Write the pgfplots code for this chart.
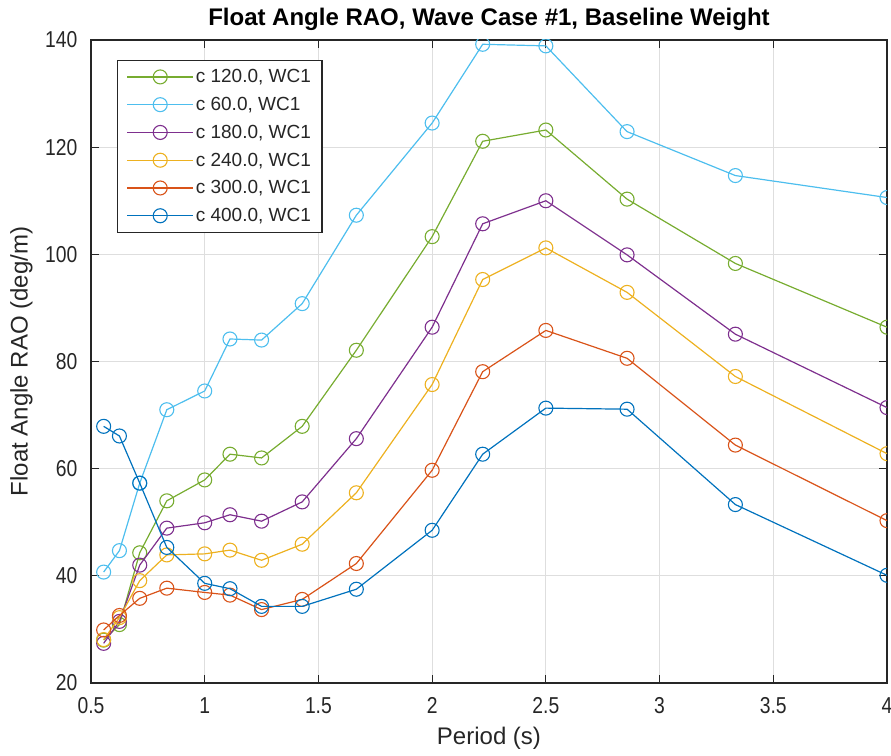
\documentclass[border=0pt]{standalone}
\usepackage{graphicx}
\usepackage{pgfplots}
\pgfplotsset{compat=1.18}
\usepackage{fontspec}
\setmainfont{Liberation Sans}
\definecolor{mgreen}{RGB}{119,172,48}
\definecolor{mlblue}{RGB}{77,190,238}
\definecolor{mpurple}{RGB}{126,47,142}
\definecolor{myellow}{RGB}{237,177,32}
\definecolor{morange}{RGB}{217,83,25}
\definecolor{mblue}{RGB}{0,114,189}
\definecolor{axgray}{RGB}{38,38,38}
\definecolor{gridgray}{RGB}{222,222,222}
\newcommand\sq[1]{\scalebox{0.84}[1]{#1}}
\begin{document}
\begin{tikzpicture}
\begin{axis}[
  scale only axis,
  width=796pt, height=643pt,
  xmin=0.5, xmax=4, ymin=20, ymax=140,
  xtick={0.5,1,...,4}, ytick={20,40,...,140},
  xticklabels={\sq{0.5},\sq{1},\sq{1.5},\sq{2},\sq{2.5},\sq{3},\sq{3.5},\sq{4}},
  yticklabels={\sq{20},\sq{40},\sq{60},\sq{80},\sq{100},\sq{120},\sq{140}},
  tick align=inside, major tick length=8pt,
  tick style={axgray, line width=1.2pt},
  axis line style={axgray, line width=1.4pt},
  grid=major,
  major grid style={gridgray, line width=1pt},
  ticklabel style={font=\fontsize{23}{26}\selectfont, text=axgray},
  yticklabel style={xshift=-10pt},
  xticklabel style={yshift=-11pt},
  title={\textbf{Float Angle RAO, Wave Case \#1, Baseline Weight}},
  title style={font=\fontsize{24}{28}\selectfont, yshift=0pt},
  xlabel={Period (s)},
  ylabel={Float Angle RAO (deg/m)},
  label style={font=\fontsize{24}{28}\selectfont, text=axgray},
  xlabel style={at={(rel axis cs:0.5,-0.0638)}, anchor=north},
  ylabel style={at={(rel axis cs:-0.069,0.5)}, anchor=south},
  clip marker paths=true,
  every axis plot/.append style={line width=1.2pt, mark=o, mark size=7pt, mark options={solid, line width=1.1pt}},
  legend cell align=left,
  legend image code/.code={\draw[mark repeat=2, mark phase=2, #1] plot coordinates {(0pt,0pt) (33pt,0pt) (66pt,0pt)};},
  legend style={at={(rel axis cs:0.0327,0.969)}, anchor=north west, draw=axgray, line width=1.2pt,
    font=\fontsize{19}{22}\selectfont, text=axgray, row sep=9pt, inner xsep=9pt, inner ysep=7pt,
    nodes={inner sep=2pt}},
]
\addplot[mgreen] coordinates {(0.5556,28.0)(0.625,30.9)(0.7143,44.3)(0.8333,54.0)(1.0,57.9)(1.1111,62.7)(1.25,62.0)(1.4286,67.9)(1.6667,82.1)(2.0,103.3)(2.2222,121.1)(2.5,123.2)(2.8571,110.3)(3.3333,98.3)(4.0,86.4)};
\addlegendentry{c 120.0, WC1}
\addplot[mlblue] coordinates {(0.5556,40.7)(0.625,44.7)(0.7143,57.3)(0.8333,71.0)(1.0,74.5)(1.1111,84.2)(1.25,84.0)(1.4286,90.8)(1.6667,107.3)(2.0,124.5)(2.2222,139.2)(2.5,138.9)(2.8571,122.9)(3.3333,114.7)(4.0,110.6)};
\addlegendentry{c 60.0, WC1}
\addplot[mpurple] coordinates {(0.5556,27.4)(0.625,31.5)(0.7143,42.0)(0.8333,48.9)(1.0,49.9)(1.1111,51.4)(1.25,50.2)(1.4286,53.8)(1.6667,65.6)(2.0,86.4)(2.2222,105.7)(2.5,110.0)(2.8571,99.9)(3.3333,85.1)(4.0,71.4)};
\addlegendentry{c 180.0, WC1}
\addplot[myellow] coordinates {(0.5556,28.1)(0.625,32.2)(0.7143,39.1)(0.8333,43.9)(1.0,44.1)(1.1111,44.8)(1.25,42.9)(1.4286,45.9)(1.6667,55.5)(2.0,75.7)(2.2222,95.3)(2.5,101.2)(2.8571,92.9)(3.3333,77.2)(4.0,62.8)};
\addlegendentry{c 240.0, WC1}
\addplot[morange] coordinates {(0.5556,29.9)(0.625,32.6)(0.7143,35.8)(0.8333,37.7)(1.0,36.9)(1.1111,36.4)(1.25,33.7)(1.4286,35.6)(1.6667,42.3)(2.0,59.7)(2.2222,78.1)(2.5,85.8)(2.8571,80.6)(3.3333,64.4)(4.0,50.3)};
\addlegendentry{c 300.0, WC1}
\addplot[mblue] coordinates {(0.5556,67.9)(0.625,66.1)(0.7143,57.3)(0.8333,45.3)(1.0,38.6)(1.1111,37.6)(1.25,34.3)(1.4286,34.3)(1.6667,37.5)(2.0,48.5)(2.2222,62.7)(2.5,71.3)(2.8571,71.1)(3.3333,53.3)(4.0,40.1)};
\addlegendentry{c 400.0, WC1}
\coordinate (bl) at (rel axis cs:0,0);
\coordinate (tr) at (rel axis cs:1,1);
\end{axis}
\pgfresetboundingbox
\path ([shift={(-91pt,-72pt)}]bl) rectangle ([shift={(4pt,40pt)}]tr);
\end{tikzpicture}
\end{document}
